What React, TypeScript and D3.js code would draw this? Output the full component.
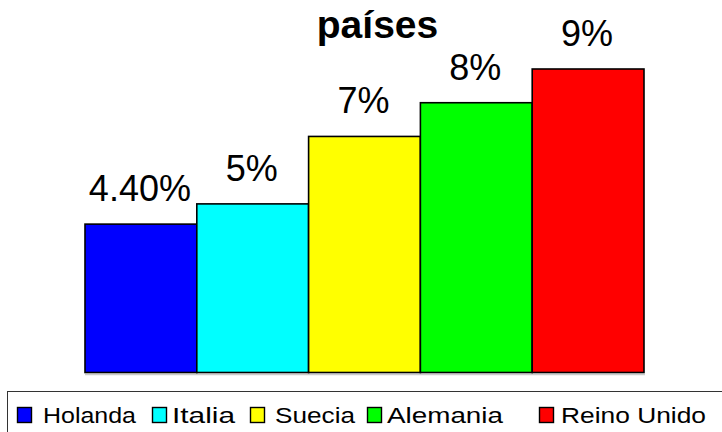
import { useEffect, useRef } from "react"
import * as d3 from "d3"

const countries = ["Holanda", "Italia", "Suecia", "Alemania", "Reino Unido"]
const values = [4.4, 5, 7, 8, 9]
const valueLabels = ["4.40%", "5%", "7%", "8%", "9%"]
const colors = ["#0000ff", "#00ffff", "#ffff00", "#00ff00", "#ff0000"]
const title = "países"

// legend layout: swatch left edges, text left edges, text widths
const legendSwatchX = [17, 152, 250, 367, 539]
const legendTextX = [43, 172, 275, 387, 561]
const legendTextW = [93, 63, 80, 116, 145]

export default function App() {
  const svgRef = useRef<SVGSVGElement>(null)

  useEffect(() => {
    if (!svgRef.current) return
    const width = 722
    const height = 432
    const font = "Arial, 'Liberation Sans', sans-serif"

    const svg = d3.select(svgRef.current)
    svg.selectAll("*").remove()
    svg.attr("width", width).attr("height", height)

    const data = countries.map((c, i) => ({ country: c, value: values[i], label: valueLabels[i], color: colors[i] }))

    const x = d3.scaleBand().domain(countries).range([85, 644]).padding(0)
    const y = d3.scaleLinear().domain([0, 9]).range([372.5, 69])

    // Title
    svg
      .append("text")
      .attr("x", 377.5)
      .attr("y", 38)
      .attr("text-anchor", "middle")
      .style("font-family", font)
      .style("font-weight", "bold")
      .style("font-size", "39px")
      .text(title)

    // shadow line under bars
    svg
      .append("line")
      .attr("x1", 85)
      .attr("x2", 645)
      .attr("y1", y(0) + 2)
      .attr("y2", y(0) + 2)
      .attr("stroke", "#cccccc")
      .attr("stroke-width", 1.5)

    // Bars
    svg
      .append("g")
      .selectAll("rect")
      .data(data)
      .enter()
      .append("rect")
      .attr("x", (d) => x(d.country) as number)
      .attr("y", (d) => y(d.value))
      .attr("width", x.bandwidth())
      .attr("height", (d) => y(0) - y(d.value))
      .attr("fill", (d) => d.color)
      .attr("stroke", "#000")
      .attr("stroke-width", 1.6)

    // Value labels
    svg
      .append("g")
      .selectAll("text")
      .data(data)
      .enter()
      .append("text")
      .attr("x", (d) => (x(d.country) as number) + x.bandwidth() / 2 - 1)
      .attr("y", (d) => y(d.value) - 23)
      .attr("text-anchor", "middle")
      .style("font-family", font)
      .style("font-size", "36px")
      .style("fill", "#000")
      .text((d) => d.label)

    // Legend box
    svg
      .append("rect")
      .attr("x", 7.5)
      .attr("y", 391.5)
      .attr("width", 730)
      .attr("height", 60)
      .attr("fill", "#fff")
      .attr("stroke", "#333")
      .attr("stroke-width", 1)

    const legend = svg.append("g")

    legend
      .selectAll("rect")
      .data(data)
      .enter()
      .append("rect")
      .attr("x", (d, i) => legendSwatchX[i] + 0.5)
      .attr("y", 407.5)
      .attr("width", 14)
      .attr("height", 15)
      .attr("fill", (d) => d.color)
      .attr("stroke", "#000")
      .attr("stroke-width", 1.4)

    legend
      .selectAll("text")
      .data(data)
      .enter()
      .append("text")
      .attr("x", (d, i) => legendTextX[i])
      .attr("y", 423)
      .attr("textLength", (d, i) => legendTextW[i])
      .attr("lengthAdjust", "spacingAndGlyphs")
      .style("font-family", font)
      .style("font-size", "22.5px")
      .style("fill", "#000")
      .text((d) => d.country)
  }, [])

  return (
    <div style={{ position: "absolute", left: 0, top: 0, width: 722, height: 432, overflow: "hidden", background: "#fff" }}>
      <svg ref={svgRef} style={{ display: "block" }}></svg>
    </div>
  )
}
